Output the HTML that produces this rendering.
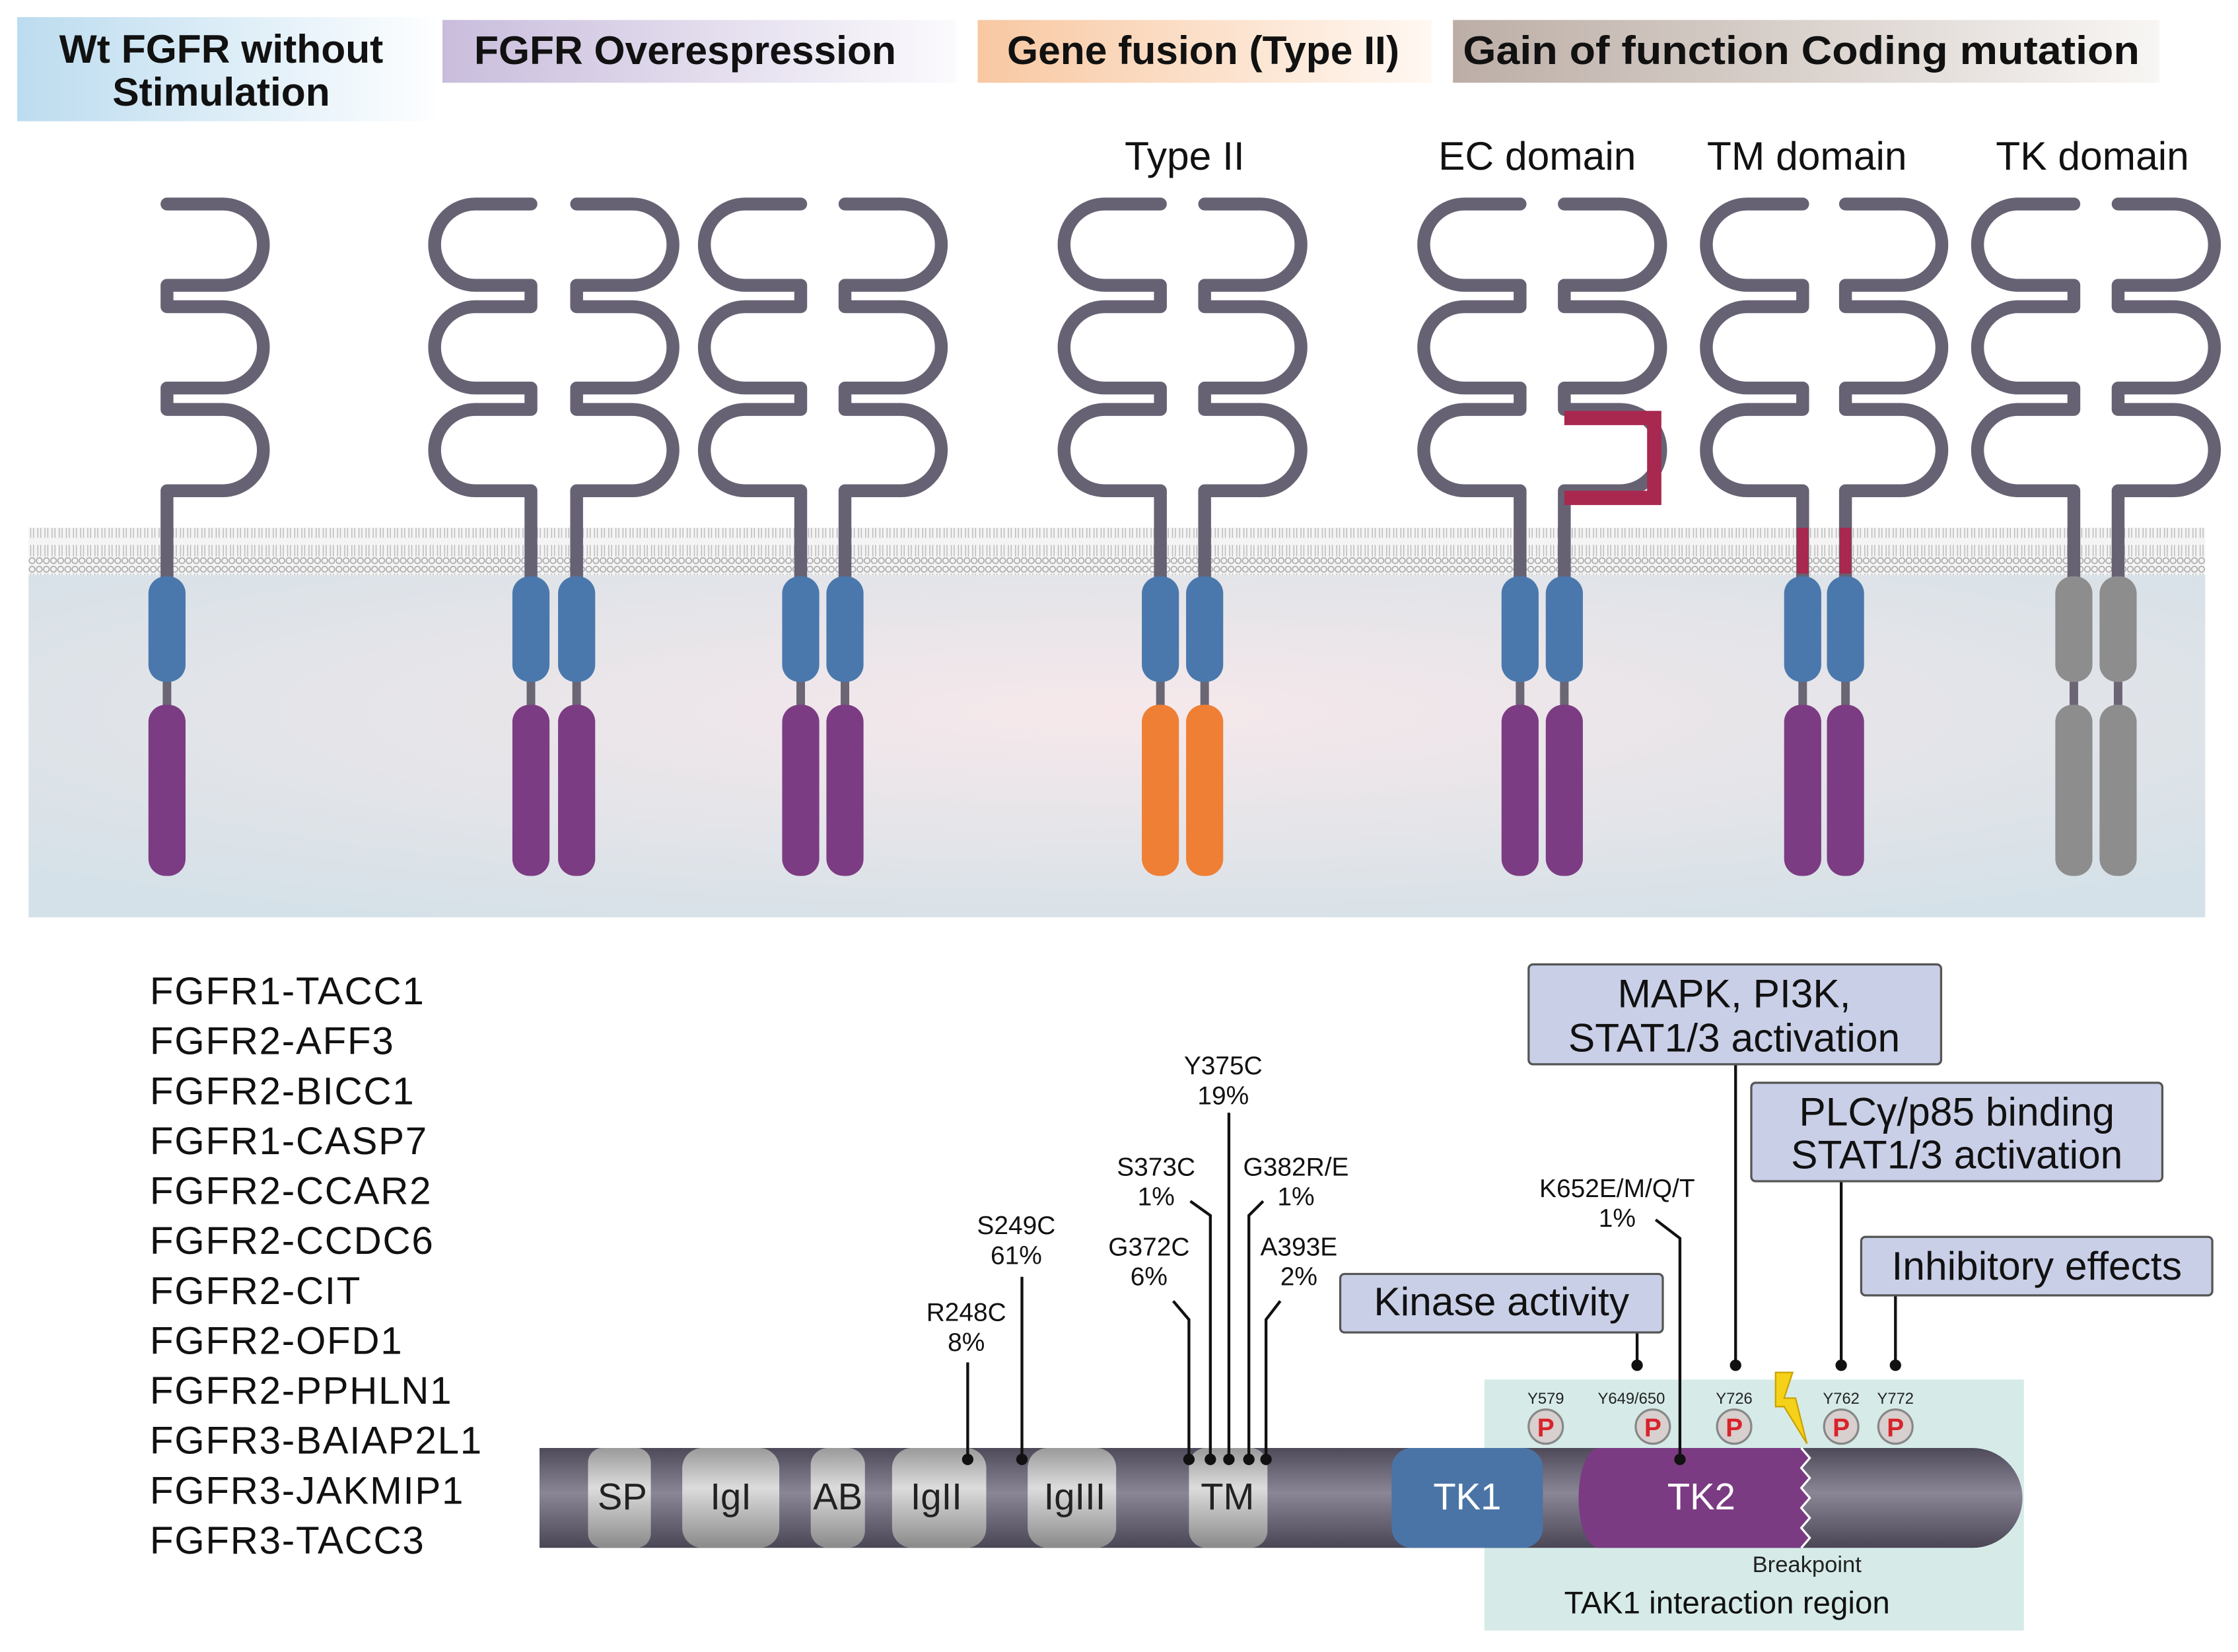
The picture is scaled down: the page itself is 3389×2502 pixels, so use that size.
<!DOCTYPE html>
<html><head><meta charset="utf-8"><style>
html,body{margin:0;padding:0;background:#fff}
svg{display:block}
text{font-family:"Liberation Sans",sans-serif}
</style></head><body>
<svg width="3389" height="2502" viewBox="0 0 1568 1158" preserveAspectRatio="none" xmlns="http://www.w3.org/2000/svg">
<defs>
<linearGradient id="h1" x1="0" x2="1"><stop offset="0" stop-color="#bcdcef"/><stop offset="1" stop-color="#fdfeff"/></linearGradient>
<linearGradient id="h2" x1="0" x2="1"><stop offset="0" stop-color="#c9bddc"/><stop offset="1" stop-color="#fbfafd"/></linearGradient>
<linearGradient id="h3" x1="0" x2="1"><stop offset="0" stop-color="#f8c8a2"/><stop offset="1" stop-color="#fff8f2"/></linearGradient>
<linearGradient id="h4" x1="0" x2="1"><stop offset="0" stop-color="#bcaea6"/><stop offset="1" stop-color="#f8f6f4"/></linearGradient>
<radialGradient id="cyto" cx="0.5" cy="0.4" r="0.7"><stop offset="0" stop-color="#f6e8ea"/><stop offset="1" stop-color="#d4e1e8"/></radialGradient>
<linearGradient id="bar" x1="0" y1="0" x2="0" y2="1"><stop offset="0" stop-color="#4e4a5a"/><stop offset="0.45" stop-color="#8a8696"/><stop offset="1" stop-color="#4a4656"/></linearGradient>
<linearGradient id="lg" x1="0" y1="0" x2="0" y2="1"><stop offset="0" stop-color="#9a9a9a"/><stop offset="0.4" stop-color="#dcdcdc"/><stop offset="1" stop-color="#8a8a8a"/></linearGradient>
<pattern id="mem" width="5" height="33" patternUnits="userSpaceOnUse">
<circle cx="2.5" cy="3" r="2" fill="none" stroke="#aaa" stroke-width="0.8"/>
<circle cx="2.5" cy="30" r="2" fill="none" stroke="#aaa" stroke-width="0.8"/>
<path d="M1.5,6 V14 M3.5,6 V14 M1.5,19 V27 M3.5,19 V27" stroke="#bbb" stroke-width="0.7"/>
</pattern>
<path id="rec" d="M0,143 H39 A28.5,28.5 0 0 1 39,200 H0 V215 H39 A28.5,28.5 0 0 1 39,272 H0 V287 H39 A28.5,28.5 0 0 1 39,344 H0 V405" fill="none" stroke="#676273" stroke-width="9" stroke-linecap="round" stroke-linejoin="round"/>
<g id="cyt">
<rect x="-3" y="470" width="6" height="30" fill="#6b6674"/>
<rect x="-13" y="404" width="26" height="74" rx="12" fill="#4a78ac"/>
<rect x="-13" y="494" width="26" height="120" rx="12" fill="#7c3c83"/>
</g>
</defs>

<!-- headers -->
<rect x="12" y="12" width="293" height="73" fill="url(#h1)"/>
<text x="155" y="44" font-size="28" font-weight="bold" text-anchor="middle" fill="#111">Wt FGFR without</text>
<text x="155" y="74" font-size="28" font-weight="bold" text-anchor="middle" fill="#111">Stimulation</text>
<rect x="310" y="14" width="360" height="44" fill="url(#h2)"/>
<text x="480" y="45" font-size="28" font-weight="bold" text-anchor="middle" fill="#111">FGFR Overespression</text>
<rect x="685" y="14" width="318" height="44" fill="url(#h3)"/>
<text x="843" y="45" font-size="28" font-weight="bold" text-anchor="middle" fill="#111">Gene fusion (Type II)</text>
<rect x="1018" y="14" width="495" height="44" fill="url(#h4)"/>
<text x="1262" y="45" font-size="28" font-weight="bold" text-anchor="middle" fill="#111" textLength="474" lengthAdjust="spacingAndGlyphs">Gain of function Coding mutation</text>

<text x="830" y="119" font-size="28" text-anchor="middle" fill="#111">Type II</text>
<text x="1077" y="119" font-size="28" text-anchor="middle" fill="#111">EC domain</text>
<text x="1266" y="119" font-size="28" text-anchor="middle" fill="#111">TM domain</text>
<text x="1466" y="119" font-size="28" text-anchor="middle" fill="#111">TK domain</text>

<!-- cell -->
<rect x="20" y="403" width="1525" height="240" fill="url(#cyto)"/>
<rect x="20" y="370" width="1525" height="33" fill="#f4f4f4"/>
<rect x="20" y="370" width="1525" height="33" fill="url(#mem)"/>

<!-- receptors -->
<use href="#rec" transform="translate(117,0)"/>
<use href="#cyt" transform="translate(117,0)"/>
<use href="#rec" transform="translate(372,0) scale(-1,1)"/>
<use href="#rec" transform="translate(404,0)"/>
<use href="#cyt" transform="translate(372,0)"/><use href="#cyt" transform="translate(404,0)"/>
<use href="#rec" transform="translate(561,0) scale(-1,1)"/>
<use href="#rec" transform="translate(592,0)"/>
<use href="#cyt" transform="translate(561,0)"/><use href="#cyt" transform="translate(592,0)"/>
<use href="#rec" transform="translate(813,0) scale(-1,1)"/>
<use href="#rec" transform="translate(844,0)"/>
<rect x="810" y="470" width="6" height="30" fill="#6b6674"/><rect x="841" y="470" width="6" height="30" fill="#6b6674"/>
<rect x="800" y="404" width="26" height="74" rx="12" fill="#4a78ac"/><rect x="831" y="404" width="26" height="74" rx="12" fill="#4a78ac"/>
<rect x="800" y="494" width="26" height="120" rx="12" fill="#ee7f35"/><rect x="831" y="494" width="26" height="120" rx="12" fill="#ee7f35"/>
<use href="#rec" transform="translate(1065,0) scale(-1,1)"/>
<use href="#rec" transform="translate(1096,0)"/>
<path d="M1096,293 H1159 V349 H1096" fill="none" stroke="#a8284f" stroke-width="10"/>
<use href="#cyt" transform="translate(1065,0)"/><use href="#cyt" transform="translate(1096,0)"/>
<use href="#rec" transform="translate(1263,0) scale(-1,1)"/>
<use href="#rec" transform="translate(1293,0)"/>
<rect x="1259" y="370" width="8" height="32" fill="#a8284f"/><rect x="1289" y="370" width="8" height="32" fill="#a8284f"/>
<use href="#cyt" transform="translate(1263,0)"/><use href="#cyt" transform="translate(1293,0)"/>
<use href="#rec" transform="translate(1453,0) scale(-1,1)"/>
<use href="#rec" transform="translate(1484,0)"/>
<rect x="1450" y="470" width="6" height="30" fill="#6b6674"/><rect x="1481" y="470" width="6" height="30" fill="#6b6674"/>
<rect x="1440" y="404" width="26" height="74" rx="12" fill="#8d8d8d"/><rect x="1471" y="404" width="26" height="74" rx="12" fill="#8d8d8d"/>
<rect x="1440" y="494" width="26" height="120" rx="12" fill="#8d8d8d"/><rect x="1471" y="494" width="26" height="120" rx="12" fill="#8d8d8d"/>

<!-- fusion list -->
<g font-size="27" fill="#111" letter-spacing="0.8">
<text x="105" y="704">FGFR1-TACC1</text>
<text x="105" y="739">FGFR2-AFF3</text>
<text x="105" y="774">FGFR2-BICC1</text>
<text x="105" y="809">FGFR1-CASP7</text>
<text x="105" y="844">FGFR2-CCAR2</text>
<text x="105" y="879">FGFR2-CCDC6</text>
<text x="105" y="914">FGFR2-CIT</text>
<text x="105" y="949">FGFR2-OFD1</text>
<text x="105" y="984">FGFR2-PPHLN1</text>
<text x="105" y="1019">FGFR3-BAIAP2L1</text>
<text x="105" y="1054">FGFR3-JAKMIP1</text>
<text x="105" y="1089">FGFR3-TACC3</text>
</g>

<!-- TAK1 region -->
<rect x="1040" y="967" width="378" height="176" fill="#d6ebe8"/>

<!-- bar -->
<path d="M378,1015 H1382 A35,35 0 0 1 1382,1085 H378 Z" fill="url(#bar)"/>
<rect x="412" y="1015" width="44" height="70" rx="10" fill="url(#lg)"/>
<rect x="478" y="1015" width="68" height="70" rx="14" fill="url(#lg)"/>
<rect x="568" y="1015" width="38" height="70" rx="12" fill="url(#lg)"/>
<rect x="625" y="1015" width="66" height="70" rx="14" fill="url(#lg)"/>
<rect x="720" y="1015" width="62" height="70" rx="14" fill="url(#lg)"/>
<rect x="833" y="1015" width="55" height="70" rx="12" fill="url(#lg)"/>
<rect x="975" y="1015" width="106" height="70" rx="14" fill="#4a74a6"/>
<path d="M1120,1015 H1262 L1268,1022 L1262,1029 L1268,1036 L1262,1043 L1268,1050 L1262,1057 L1268,1064 L1262,1071 L1268,1078 L1262,1085 H1120 A14,35 0 0 1 1120,1015 Z" fill="#7b3b82"/>
<path d="M1262,1015 L1268,1022 L1262,1029 L1268,1036 L1262,1043 L1268,1050 L1262,1057 L1268,1064 L1262,1071 L1268,1078 L1262,1085" fill="none" stroke="#fff" stroke-width="1.5"/>
<g font-size="26" text-anchor="middle" fill="#222">
<text x="436" y="1058">SP</text><text x="512" y="1058">IgI</text><text x="587" y="1058">AB</text>
<text x="656" y="1058">IgII</text><text x="753" y="1058">IgIII</text><text x="860" y="1058">TM</text>
<text x="1028" y="1058" fill="#fff">TK1</text><text x="1192" y="1058" fill="#fff">TK2</text>
</g>

<!-- mutation lines -->
<g stroke="#111" stroke-width="2" fill="none">
<path d="M678,955 V1023"/><path d="M716,895 V1023"/>
<path d="M822,912 L833,925 V1023"/><path d="M834,842 L848,852 V1023"/>
<path d="M861,780 V1023"/><path d="M885,842 L875,852 V1023"/>
<path d="M897,912 L887,925 V1023"/>
<path d="M1160,855 L1177,868 V1023"/>
<path d="M1147,934 V957"/><path d="M1216,746 V957"/><path d="M1290,828 V957"/><path d="M1328,908 V957"/>
</g>
<g fill="#111">
<circle cx="678" cy="1023" r="4"/><circle cx="716" cy="1023" r="4"/><circle cx="833" cy="1023" r="4"/>
<circle cx="848" cy="1023" r="4"/><circle cx="861" cy="1023" r="4"/><circle cx="875" cy="1023" r="4"/><circle cx="887" cy="1023" r="4"/>
<circle cx="1177" cy="1023" r="4"/>
<circle cx="1147" cy="957" r="4"/><circle cx="1216" cy="957" r="4"/><circle cx="1290" cy="957" r="4"/><circle cx="1328" cy="957" r="4"/>
</g>
<g font-size="18" text-anchor="middle" fill="#111">
<text x="677" y="926">R248C</text><text x="677" y="947">8%</text>
<text x="712" y="865">S249C</text><text x="712" y="886">61%</text>
<text x="805" y="880">G372C</text><text x="805" y="901">6%</text>
<text x="810" y="824">S373C</text><text x="810" y="845">1%</text>
<text x="857" y="753">Y375C</text><text x="857" y="774">19%</text>
<text x="908" y="824">G382R/E</text><text x="908" y="845">1%</text>
<text x="910" y="880">A393E</text><text x="910" y="901">2%</text>
<text x="1133" y="839">K652E/M/Q/T</text><text x="1133" y="860">1%</text>
</g>

<!-- boxes -->
<g fill="#c9cfe7" stroke="#555" stroke-width="1.5">
<rect x="1071" y="676" width="289" height="70" rx="3"/>
<rect x="1227" y="759" width="288" height="69" rx="3"/>
<rect x="1304" y="867" width="246" height="41" rx="3"/>
<rect x="939" y="893" width="226" height="41" rx="3"/>
</g>
<g font-size="28" text-anchor="middle" fill="#111">
<text x="1215" y="706">MAPK, PI3K,</text><text x="1215" y="737">STAT1/3 activation</text>
<text x="1371" y="789">PLCγ/p85 binding</text><text x="1371" y="819">STAT1/3 activation</text>
<text x="1427" y="897">Inhibitory effects</text>
<text x="1052" y="922">Kinase activity</text>
</g>

<!-- P sites -->
<g font-size="11" text-anchor="middle" fill="#222">
<text x="1083" y="984">Y579</text><text x="1143" y="984">Y649/650</text><text x="1215" y="984">Y726</text>
<text x="1290" y="984">Y762</text><text x="1328" y="984">Y772</text>
</g>
<g fill="#d8cfcf" stroke="#888" stroke-width="1.5">
<circle cx="1083" cy="1000" r="12"/><circle cx="1158" cy="1000" r="12"/><circle cx="1215" cy="1000" r="12"/>
<circle cx="1290" cy="1000" r="12"/><circle cx="1328" cy="1000" r="12"/>
</g>
<g font-size="18" font-weight="bold" text-anchor="middle" fill="#d8232a">
<text x="1083" y="1007">P</text><text x="1158" y="1007">P</text><text x="1215" y="1007">P</text>
<text x="1290" y="1007">P</text><text x="1328" y="1007">P</text>
</g>
<path d="M1244,962 L1256,962 L1250,980 L1258,980 L1266,1012 L1250,986 L1244,986 Z" fill="#f5d11a" stroke="#c9a000" stroke-width="1"/>
<text x="1266" y="1102" font-size="16" text-anchor="middle" fill="#222">Breakpoint</text>
<text x="1210" y="1131" font-size="22" text-anchor="middle" fill="#111">TAK1 interaction region</text>
</svg>
</body></html>
